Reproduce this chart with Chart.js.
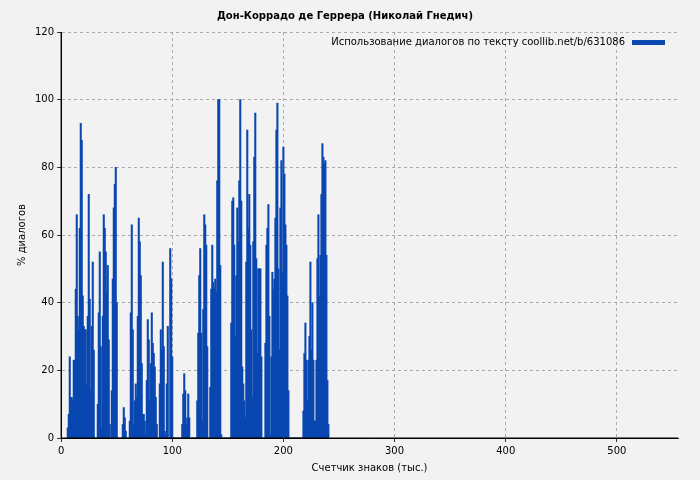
<!DOCTYPE html>
<html><head><meta charset="utf-8">
<script src="https://cdn.jsdelivr.net/npm/chart.js@4"></script>
<style>html,body{margin:0;background:#f2f2f2}#w{width:700px;height:480px}</style>
</head><body><div id="w"><canvas id="c"></canvas></div>
<script>
// Segment start (тыс. знаков) and values, bars every STEP units
const STEP = 0.9;
const seg1Start = 6.0;
const seg1 = [3,7,24,12,12,11,23,23,44,66,36,32,62,93,88,42,33,32,32,16,36,72,41,14,33,52,26,0,0,0,10,37,55,27,3,36,66,62,55,43,51,29,4,0,14,47,68,75,80,40,0,0,0,0,0,4,9,6,2,0,0,0,5,37,63,32,4,11,16,12,36,65,58,48,22,7,7,5,1,17,35,29,11,22,37,28,25,21,12,4,0,0,16,32,26,52,27,2,1,16,33];
const seg2Start = 98.2;
const seg2 = [56,47,24,0,0,0,0,0,0,0,0,0,4,13,19,14,4,6,13,6,0,0,0,0,0,0,0,11,31,48,56,31,5,38,66,63,57,27,0,0,15,44,57,46,44,47,43,76,100,100,51,1,0,0,0,0,0,0,0,0,0,34,70,71,57,30,48,68,58,76,100,70,21,16,11,6,52,91,62,72,57,32,12,58,83,96,53,25,50];
const seg3Start = 178.4;
const seg3 = [50,50,24,0,0,0,28,57,62,69,36,1,24,49,44,47,65,91,99,50,26,68,82,49,86,78,63,57,42,14,0,0,0,0,0,0,0,0,0,0,0,0,0,0,8,25,34,23,11,23,30,52,26,40,23,5,5,23,53,66,42,54,72,87,83,81,82,54,17,4];
const xTicks = [0,100,200,300,400,500];
const yTicks = [0,20,40,60,80,100,120];
const legendLabel = 'Использование диалогов по тексту coollib.net/b/631086';

function pts(start, vals){ return vals.map((v,i)=>({x:+(start+i*STEP).toFixed(2), y:v})); }
const data = [...pts(seg1Start,seg1), ...pts(seg2Start,seg2), ...pts(seg3Start,seg3)];
const F = {family:'DejaVu Sans',size:10};

new Chart(document.getElementById('c'), {
  type:'bar',
  data:{datasets:[{label:legendLabel, data, backgroundColor:'#0a47b0', borderWidth:0, barThickness:1.4}]},
  options:{
    responsive:true, maintainAspectRatio:false, animation:false,
    layout:{padding:{top:4,right:22,left:12,bottom:2}},
    plugins:{
      title:{display:true,text:'Дон-Коррадо де Геррера (Николай Гнедич)',color:'#000',font:F,padding:{top:6,bottom:10}},
      legend:{display:false},
      tooltip:{enabled:false}
    },
    scales:{
      x:{type:'linear',offset:false,min:0,max:555,afterBuildTicks:a=>{a.ticks=xTicks.map(v=>({value:v}))},
        grid:{offset:false,color:'#999',lineWidth:0.8,tickLength:4,tickColor:'#000'},border:{color:'#000',dash:[3,3]},
        ticks:{color:'#000',font:F,maxRotation:0},
        title:{display:true,text:'Счетчик знаков (тыс.)',color:'#000',font:F,padding:{top:2}}},
      y:{min:0,max:120,afterBuildTicks:a=>{a.ticks=yTicks.map(v=>({value:v}))},
        grid:{color:'#999',lineWidth:0.8,tickLength:4,tickColor:'#000'},border:{color:'#000',dash:[3,3]},
        ticks:{color:'#000',font:F},
        title:{display:true,text:'% диалогов',color:'#000',font:F}}
    }
  },
  plugins:[{id:'axes',afterDraw(ch){const {ctx,chartArea:a}=ch;ctx.save();ctx.strokeStyle='#000';ctx.lineWidth=1;ctx.beginPath();ctx.moveTo(a.left,a.top);ctx.lineTo(a.left,a.bottom);ctx.lineTo(a.right,a.bottom);ctx.stroke();
    ctx.fillStyle='#0a47b0';ctx.fillRect(a.right-46,a.top+8,33,5);
    ctx.fillStyle='#000';ctx.font='10px "DejaVu Sans"';ctx.textAlign='right';ctx.textBaseline='middle';ctx.fillText(legendLabel,a.right-53,a.top+10.5);ctx.restore();}}]
});
</script></body></html>
